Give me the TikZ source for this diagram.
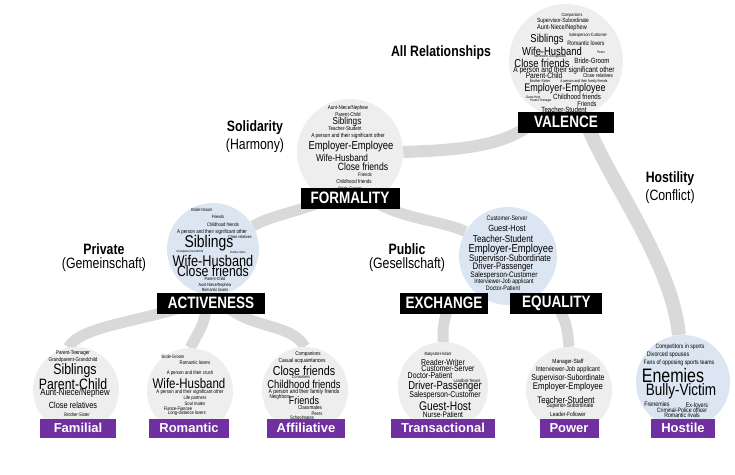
\documentclass[tikz,border=0pt]{standalone}
\usepackage{fontspec}
\setmainfont{Liberation Sans}
\newfontfamily\narrowfont{Liberation Sans}[FakeStretch=0.82]
\usetikzlibrary{positioning, backgrounds}
\definecolor{bubblegray}{HTML}{EEEEEE}
\definecolor{bubbleblue}{HTML}{DCE6F2}
\definecolor{branchgray}{HTML}{D9D9D9}
\definecolor{catpurple}{HTML}{7030A0}

\begin{document}
\begin{tikzpicture}[
    x=1pt, y=-1pt,
    node distance=3pt and 22pt,
    bubble/.style={circle, fill=bubblegray, inner sep=0pt, minimum size=#1},
    bluebubble/.style={bubble=#1, fill=bubbleblue},
    word/.style={inner sep=0pt, font=\narrowfont\fontsize{#1}{#1}\selectfont},
    tag/.style={fill=black, text=white, inner sep=0pt, minimum height=21pt,
                minimum width=#1, font=\narrowfont\bfseries\fontsize{16.5}{16.5}\selectfont},
    cat/.style={fill=catpurple, text=white, inner xsep=10pt, inner ysep=0pt,
                minimum height=19pt, font=\bfseries\fontsize{13}{13}\selectfont},
    head/.style={inner sep=0pt, font=\narrowfont\bfseries\fontsize{15}{15}\selectfont},
    sub/.style={inner sep=0pt, font=\narrowfont\fontsize{15}{15}\selectfont},
    branch/.style={draw=branchgray, line width=#1},
]
\useasboundingbox (0,0) rectangle (735,474);

% bubbles
\node[bubble=114pt] (cAll) at (566,61) {};
\node[bubble=106pt] (cSol) at (350,152) {};
\node[bluebubble=92pt] (cPriv) at (213,249) {};
\node[bluebubble=98pt] (cPub) at (508,256) {};
\node[bubble=86pt] (cFam) at (76,390) {};
\node[bubble=86pt] (cRom) at (190,391) {};
\node[bubble=86pt] (cAff) at (305,390) {};
\node[bubble=90pt] (cTra) at (443,387) {};
\node[bubble=86pt] (cPow) at (569,390) {};
\node[bluebubble=94pt] (cHos) at (683,382) {};

% word clouds
\foreach \px/\py/\fs/\txt [count=\i] in {572/15/4.5/Companions, 563/21/6/Supervisor-Subordinate,
    562/28/6.8/{Aunt-Niece/Nephew}, 547/40/11.5/Siblings, 588/35/4.5/Salesperson-Customer,
    586/43/6.3/Romantic lovers, 552/51/11.5/Wife-Husband, 601/52/3.5/Peers,
    550/57/3.5/Interviewer-Job applicant, 542/63/11.5/Close friends, 592/61/7.5/Bride-Groom,
    564/70/8/A person and their significant other, 544/76/8/Parent-Child, 598/76/5.5/Close relatives,
    540/81/4/Brother-Sister, 584/81/4/A person and their family friends, 565/89/11/Employer-Employee,
    533/97/3.5/Guest-Host, 577/97/7.5/Childhood friends, 541/101/3.5/Parent-Teenager,
    587/104/7/Friends, 564/110/7.5/Teacher-Student}
    \node[word=\fs] (v\i) at (\px,\py) {\txt};
\foreach \px/\py/\fs/\txt [count=\i] in {348/108/5.5/{Aunt-Niece/Nephew}, 348/115/5.5/Parent-Child,
    347/122/10/Siblings, 345/129/5.5/Teacher-Student, 348/136/5.8/A person and their significant other,
    351/147/11.5/Employer-Employee, 342/158/10/Wife-Husband, 363/167/10.5/Close friends,
    365/175/5/Friends, 354/182/5.5/Childhood friends, 350/189/5/Bride-Groom}
    \node[word=\fs] (f\i) at (\px,\py) {\txt};
\foreach \px/\py/\fs/\txt [count=\i] in {202/210/4.5/Bride-Groom, 218/217/4.5/Friends,
    223/225/5/Childhood friends, 212/232/5.5/A person and their significant other,
    240/237/4.3/Close relatives, 209/243/17/Siblings, 190/252/3/Grandparent-Grandchild,
    238/252/3/Brother-Sister, 213/261/15.5/Wife-Husband, 213/271/15/Close friends,
    215/279/4.5/Parent-Child, 215/285/4.5/{Aunt-Niece/Nephew}, 215/290/4.5/Romantic lovers}
    \node[word=\fs] (a\i) at (\px,\py) {\txt};
\foreach \px/\py/\fs/\txt [count=\i] in {507/218/6.5/Customer-Server, 507/228/9/Guest-Host,
    503/239/10/Teacher-Student, 511/250/11.5/Employer-Employee, 510/259/9.5/Supervisor-Subordinate,
    503/267/9.5/Driver-Passenger, 504/275/8/Salesperson-Customer,
    504/282/6.5/Interviewer-Job applicant, 503/288/6.5/Doctor-Patient}
    \node[word=\fs] (p\i) at (\px,\py) {\txt};
\foreach \px/\py/\fs/\txt [count=\i] in {73/353/5.5/Parent-Teenager, 73/360/5.5/Grandparent-Grandchild,
    75/371/15/Siblings, 73/384/15/Parent-Child, 75/393/9.5/{Aunt-Niece/Nephew},
    73/405/9/Close relatives, 77/415/5/Brother-Sister}
    \node[word=\fs] (fa\i) at (\px,\py) {\txt};
\foreach \px/\py/\fs/\txt [count=\i] in {173/357/4.8/Bride-Groom, 195/363/5.2/Romantic lovers,
    190/373/5.2/A person and their crush, 189/383/14/Wife-Husband,
    190/392/5.3/A person and their significant other, 195/398/5/Life partners,
    195/404/5/Soul mates, 178/409/5/Fiance-Fiancee, 187/413/5/Long-distance lovers}
    \node[word=\fs] (r\i) at (\px,\py) {\txt};
\foreach \px/\py/\fs/\txt [count=\i] in {308/354/5.5/Companions, 302/361/5.8/Casual acquaintances,
    304/371/13/Close friends, 301/377/4.3/Co-workers, 304/384/11.5/Childhood friends,
    304/392/6/A person and their family friends, 280/397/5.5/Neighbors, 304/401/11/Friends,
    310/408/5.5/Classmates, 317/414/5/Peers, 302/418/5/Schoolmates}
    \node[word=\fs] (af\i) at (\px,\py) {\txt};
\foreach \px/\py/\fs/\txt [count=\i] in {438/354/4.5/Babysitter-Infant, 443/362/8.5/Reader-Writer,
    448/369/8.5/Customer-Server, 430/375/8.5/Doctor-Patient, 467/381/4.5/Landlord-Tenant,
    445/387/11.5/Driver-Passenger, 445/395/8.5/Salesperson-Customer, 445/406/12.5/Guest-Host,
    443/415/8/Nurse-Patient}
    \node[word=\fs] (t\i) at (\px,\py) {\txt};
\foreach \px/\py/\fs/\txt [count=\i] in {568/362/6/Manager-Staff, 568/370/7/Interviewer-Job applicant,
    568/378/8.5/Supervisor-Subordinate, 568/387/9.5/Employer-Employee, 566/400/9.5/Teacher-Student,
    570/406/6/Superior-Subordinate, 568/414/6/Leader-Follower}
    \node[word=\fs] (pw\i) at (\px,\py) {\txt};
\foreach \px/\py/\fs/\txt [count=\i] in {680/347/6.3/Competitors in sports, 668/355/6.5/Divorced spouses,
    679/363/6.3/Fans of opposing sports teams, 673/376/19.5/Enemies, 681/391/16.5/Bully-Victim,
    657/404/6.5/Frenemies, 697/405/6.5/Ex-lovers, 682/410/6.3/Criminal-Police officer,
    682/415/6.3/Romantic rivals}
    \node[word=\fs] (h\i) at (\px,\py) {\txt};

% dimension tags
\node[tag=96pt] (valence) at (566,122) {VALENCE};
\node[tag=99pt] (formality) at (350,198) {FORMALITY};
\node[tag=108pt] (activeness) at (211,303) {ACTIVENESS};
\node[tag=88pt] (exchange) at (444,303) {EXCHANGE};
\node[tag=92pt, right=of exchange] (equality) {EQUALITY};

% categories
\node[cat, minimum width=76pt] (familial) at (78,428) {Familial};
\node[cat] (romantic) at (189,428) {Romantic};
\node[cat] (affiliative) at (306,428) {Affiliative};
\node[cat] (transactional) at (443,428) {Transactional};
\node[cat] (power) at (569,428) {Power};
\node[cat] (hostile) at (683,428) {Hostile};

% headings
\node[head] (allrel) at (441,53) {All Relationships};
\node[head] (solid) at (255,128) {Solidarity};
\node[sub, below=of solid] (harmony) {(Harmony)};
\node[head] (hostil) at (670,179) {Hostility};
\node[sub, below=of hostil] (conflict) {(Conflict)};
\node[head] (private) at (104,249) {Private};
\node[sub, below=of private] (gemein) {(Gemeinschaft)};
\node[head] (public) at (407,249) {Public};
\node[sub, below=of public] (gesell) {(Gesellschaft)};

% branches
\begin{scope}[on background layer]
\draw[branch=12pt] (cSol.east) .. controls +(55,-2) and +(-30,25) .. ([xshift=16pt]valence.west);
\draw[branch=14pt] ([xshift=20pt]valence.center) .. controls (608,180) and (672,262) .. (cHos.95);
\draw[branch=11pt] ([xshift=-20pt]formality.center) .. controls (300,212) and (275,214) .. (cPriv.30);
\draw[branch=11pt] ([xshift=20pt]formality.center) .. controls (395,218) and (440,220) .. (cPub.150);
\draw[branch=11pt] ([xshift=-15pt]activeness.center) .. controls (140,322) and (80,326) .. (cFam.100);
\draw[branch=11pt] ([xshift=-3pt]activeness.center) .. controls (203,325) .. (cRom.north);
\draw[branch=11pt] ([xshift=12pt]activeness.center) .. controls (250,330) and (290,322) .. (cAff.north);
\draw[branch=11pt] ([xshift=5pt]exchange.center) .. controls (443,325) .. (cTra.north);
\draw[branch=11pt] (equality.center) .. controls (567,325) .. (cPow.north);
\end{scope}
\end{tikzpicture}
\end{document}
